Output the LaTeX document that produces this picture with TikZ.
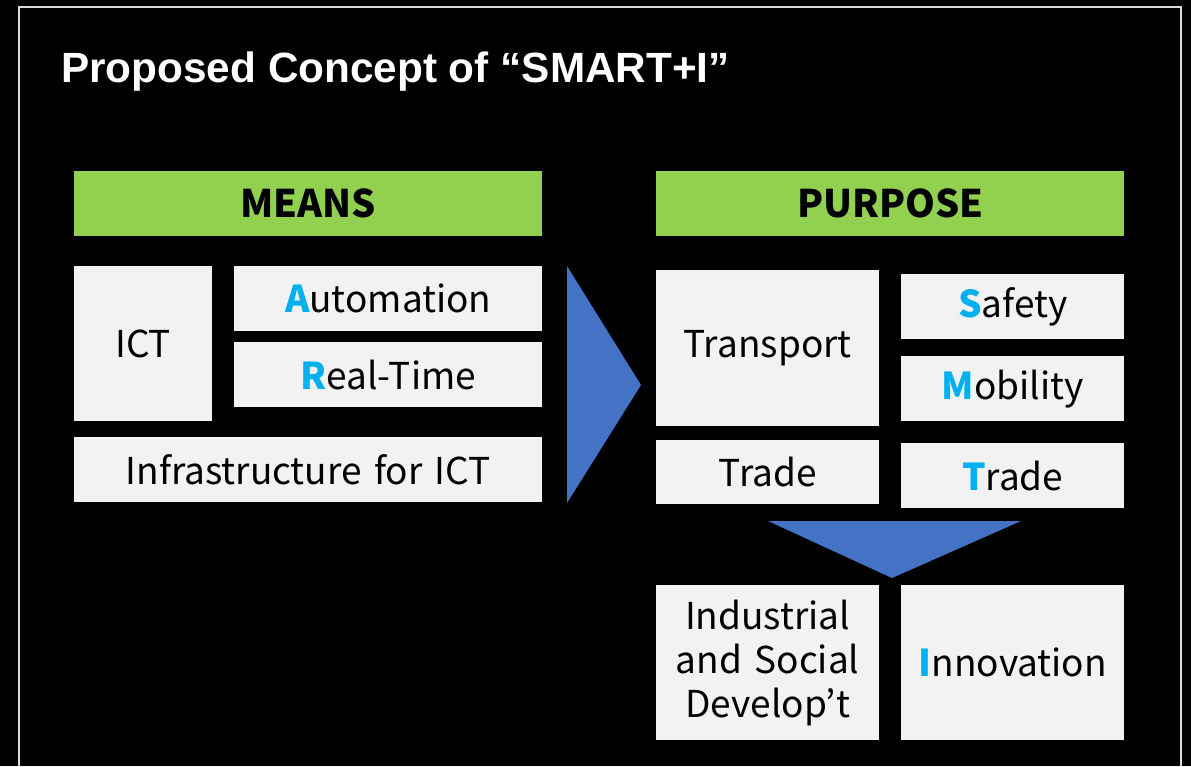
\documentclass[tikz,border=0pt]{standalone}
\usepackage{fontspec}
\setmainfont{Liberation Sans}
\newfontfamily\boxfont{Noto Sans CJK JP}
\usetikzlibrary{positioning}

\definecolor{barGreen}{HTML}{92D050}
\definecolor{boxGray}{HTML}{F2F2F2}
\definecolor{arrowBlue}{HTML}{4472C4}
\definecolor{keyCyan}{HTML}{00B0F0}
\newcommand{\keyletter}[1]{{\bfseries\color{keyCyan}#1}}

\begin{document}
\begin{tikzpicture}[x=1pt, y=-1pt]
        \tikzstyle{bar} = [rectangle, fill=barGreen, anchor=north west, inner sep=0pt, minimum width=468pt, minimum height=65pt, font=\boxfont\bfseries\fontsize{38}{40}\selectfont]
        \tikzstyle{cell} = [rectangle, fill=boxGray, anchor=north west, inner sep=0pt, align=center, text width=#1, font=\boxfont\fontsize{37}{44}\selectfont]
        \tikzstyle{wedge} = [fill=arrowBlue]

        \useasboundingbox (0,0) rectangle (1191,766);
        \fill[black] (0,0) rectangle (1191,766);
        \draw[white!85!black, line width=2pt] (19,766) -- (19,7) -- (1181,7) -- (1181,766);

        \node [anchor=base west, inner sep=0pt, text=white, font=\bfseries\fontsize{42.3}{48}\selectfont] (title) at (61,82) {Proposed Concept of “SMART+I”};

        % means side
        \node [bar] (means) at (74,171) {MEANS};
        \node [cell=138pt, minimum height=155pt] (ict) at (74,266) {ICT};
        \node [cell=308pt, minimum height=65pt] (auto) at (234,266) {\keyletter{A}utomation};
        \node [cell=308pt, minimum height=65pt] (realtime) at (234,342) {\keyletter{R}eal-Time};
        \node [cell=468pt, minimum height=65pt] (infra) at (74,437) {Infrastructure for ICT};

        % purpose side
        \node [bar] (purpose) at (656,171) {PURPOSE};
        \node [cell=223pt, minimum height=156pt] (transport) at (656,270) {Transport};
        \node [cell=223pt, minimum height=64pt] (tradeL) at (656,440) {Trade};
        \node [cell=223pt, minimum height=65pt] (safety) at (901,274) {\keyletter{S}afety};
        \node [cell=223pt, minimum height=65pt] (mobility) at (901,356) {\keyletter{M}obility};
        \node [cell=223pt, minimum height=65pt] (tradeR) at (901,443) {\keyletter{T}rade};
        \node [cell=223pt, minimum height=155pt] (industrial) at (656,585) {Industrial\\and Social\\Develop’t};
        \node [cell=223pt, minimum height=155pt] (innovation) at (901,585) {\keyletter{I}nnovation};

        % arrows
        \fill [wedge] (567,266) -- (641,385) -- (567,503) -- cycle;
        \fill [wedge] (768,521) -- (1021,521) -- (892,578) -- cycle;
    \end{tikzpicture}
\end{document}
